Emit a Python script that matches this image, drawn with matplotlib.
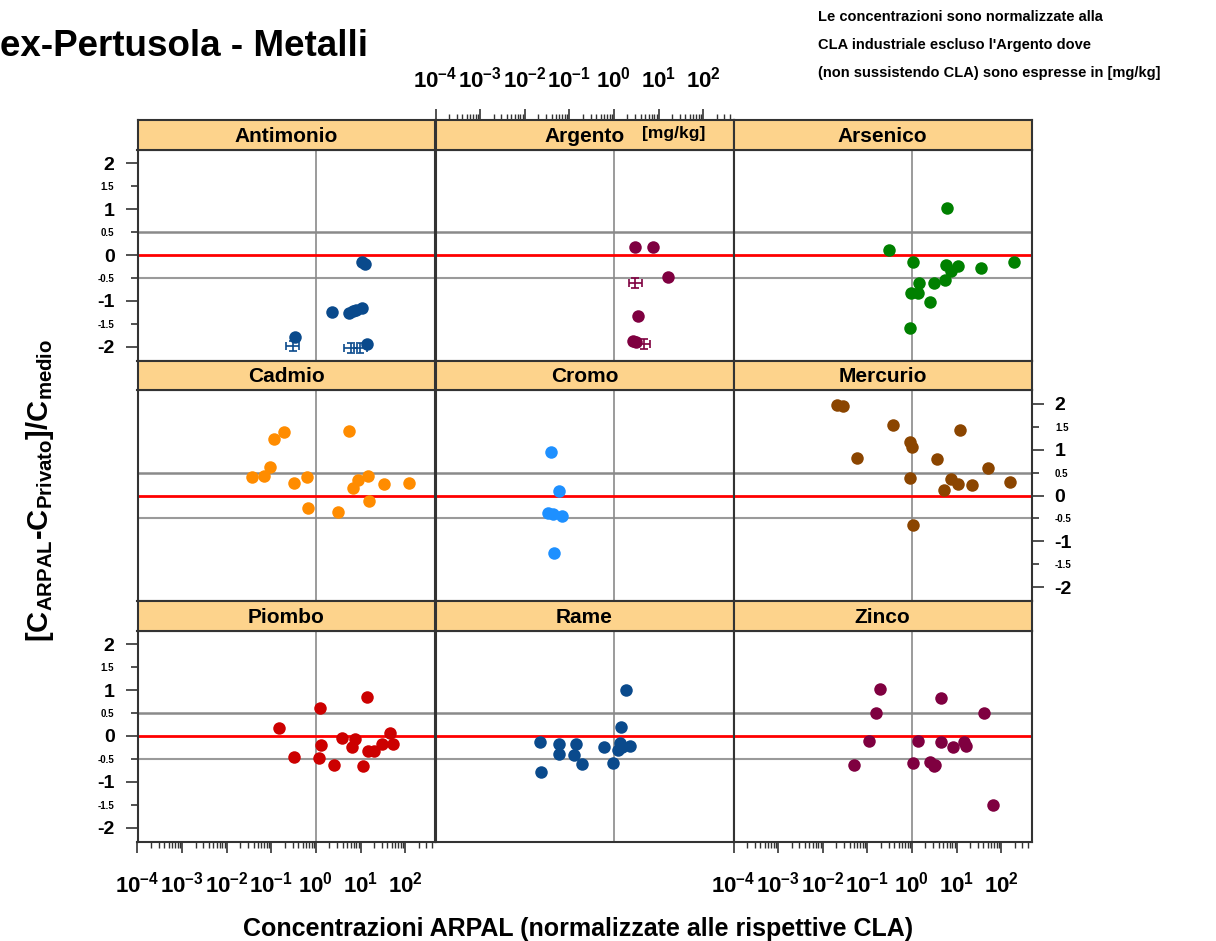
import numpy as np
import matplotlib
matplotlib.use('Agg')
import matplotlib.pyplot as plt
from matplotlib.ticker import FixedLocator, FixedFormatter, LogLocator, NullFormatter

plt.rcParams['font.family'] = 'Liberation Sans'
plt.rcParams['font.weight'] = 'bold'
plt.rcParams['mathtext.fontset'] = 'custom'
plt.rcParams['mathtext.rm'] = 'Liberation Sans:bold'
plt.rcParams['mathtext.bf'] = 'Liberation Sans:bold'
plt.rcParams['mathtext.it'] = 'Liberation Sans:bold'

# ---------------------------------------------------------- dati (x = conc. ARPAL normalizzata, y = differenza relativa)
antimonio_x = [11.0, 12.5, 2.25, 5.4, 6.7, 7.9, 10.7, 0.34, 14.0]
antimonio_y = [-0.16, -0.19, -1.24, -1.27, -1.22, -1.19, -1.15, -1.79, -1.93]
antimonio_cx = [0.30, 6.1, 9.8]          # punti con barre d'errore
antimonio_cy = [-1.99, -2.02, -2.02]

argento_x = [2.9, 7.5, 16.5, 3.4, 2.7, 3.2]
argento_y = [0.18, 0.17, -0.47, -1.34, -1.87, -1.89]
argento_cx = [3.0, 4.6]
argento_cy = [-0.62, -1.94]

arsenico_x = [6.0, 0.31, 1.07, 5.7, 7.6, 11.0, 35.0, 190.0, 5.4, 3.2, 1.46, 0.93, 1.36, 2.5, 0.90]
arsenico_y = [1.03, 0.10, -0.15, -0.22, -0.35, -0.24, -0.28, -0.16, -0.55, -0.62, -0.60, -0.82, -0.83, -1.03, -1.59]

cadmio_x = [0.19, 0.115, 5.5, 0.094, 0.0376, 0.069, 0.33, 0.64, 0.65, 3.06, 6.6, 8.6, 14.5, 15.4, 34.0, 123.0]
cadmio_y = [1.38, 1.24, 1.40, 0.63, 0.40, 0.42, 0.27, 0.40, -0.28, -0.36, 0.17, 0.33, 0.42, -0.13, 0.25, 0.28]

cromo_x = [0.038, 0.058, 0.033, 0.042, 0.070, 0.045]
cromo_y = [0.94, 0.10, -0.39, -0.40, -0.44, -1.25]

mercurio_x = [0.021, 0.029, 0.38, 0.91, 1.02, 0.06, 3.7, 11.8, 51.0, 0.91, 7.7, 11.0, 5.2, 22.5, 155.0, 1.07]
mercurio_y = [1.98, 1.96, 1.53, 1.16, 1.05, 0.81, 0.79, 1.42, 0.60, 0.38, 0.36, 0.25, 0.12, 0.22, 0.29, -0.64]

piombo_x = [0.15, 0.33, 1.23, 1.15, 1.3, 2.6, 3.9, 6.4, 7.7, 11.4, 13.6, 14.7, 20.0, 30.7, 46.0, 53.0]
piombo_y = [0.18, -0.46, 0.62, -0.49, -0.20, -0.63, -0.05, -0.25, -0.07, -0.65, 0.84, -0.33, -0.33, -0.17, 0.06, -0.18]

rame_x = [1.9, 1.45, 0.022, 0.023, 0.058, 0.060, 0.14, 0.13, 0.19, 0.59, 0.95, 1.23, 1.38, 1.52, 2.3]
rame_y = [1.0, 0.20, -0.12, -0.79, -0.18, -0.40, -0.18, -0.42, -0.61, -0.25, -0.59, -0.31, -0.16, -0.23, -0.21]

zinco_x = [0.19, 0.16, 0.11, 0.049, 1.05, 1.38, 2.6, 3.05, 3.3, 4.5, 4.5, 8.4, 14.8, 16.0, 42.0, 65.0]
zinco_y = [1.02, 0.51, -0.10, -0.63, -0.58, -0.10, -0.56, -0.65, -0.63, 0.82, -0.12, -0.25, -0.12, -0.22, 0.51, -1.51]

metalli = ['Antimonio', 'Argento', 'Arsenico', 'Cadmio', 'Cromo', 'Mercurio', 'Piombo', 'Rame', 'Zinco']
colori = ['#0A4A8C', '#7F0040', '#008000', '#FF8C00', '#1E90FF', '#8B4500', '#CC0000', '#0A4A8C', '#7F0040']
xs = [antimonio_x, argento_x, arsenico_x, cadmio_x, cromo_x, mercurio_x, piombo_x, rame_x, zinco_x]
ys = [antimonio_y, argento_y, arsenico_y, cadmio_y, cromo_y, mercurio_y, piombo_y, rame_y, zinco_y]
croci = {0: (antimonio_cx, antimonio_cy), 1: (argento_cx, argento_cy)}

x_major = [1e-4, 1e-3, 1e-2, 1e-1, 1e0, 1e1, 1e2]
x_labels = [r'$\mathbf{10^{–4}}$', r'$\mathbf{10^{–3}}$', r'$\mathbf{10^{–2}}$', r'$\mathbf{10^{–1}}$',
            r'$\mathbf{10^{0}}$', r'$\mathbf{10^{1}}$', r'$\mathbf{10^{2}}$']
y_major = [-2, -1, 0, 1, 2]
y_major_lab = ['-2', '-1', '0', '1', '2']
y_minor = [-1.5, -0.5, 0.5, 1.5]
y_minor_lab = ['-1.5', '-0.5', '0.5', '1.5']

# ---------------------------------------------------------- layout in pixel
W, H = 1216, 941
fig = plt.figure(figsize=(W / 100, H / 100), dpi=100)
col_left = [137.5, 435.5, 733.5]
col_w = 298
row_top = [120, 360.5, 601]
strip_h = 29.5
panel_h = 211
XLIM = (1e-4, 10 ** 2.68)
YLIM = (-2.3, 2.3)
strip_col = '#FDD38C'
bordo = '#333333'


def box(x, y, w, h):
    return [x / W, 1 - (y + h) / H, w / W, h / H]


def x_assi(ax, dove):
    ax.set_xscale('log')
    ax.set_xlim(*XLIM)
    ax.xaxis.set_major_locator(FixedLocator(x_major))
    ax.xaxis.set_major_formatter(FixedFormatter(x_labels))
    ax.xaxis.set_minor_locator(LogLocator(base=10, subs=np.arange(2, 10), numticks=20))
    ax.xaxis.set_minor_formatter(NullFormatter())
    ax.xaxis.set_ticks_position(dove)
    pad = 14 if dove == 'bottom' else 12
    ax.tick_params(axis='x', which='major', length=8, width=1.2, labelsize=16, pad=pad, color=bordo)
    ax.tick_params(axis='x', which='minor', length=4, width=1.0, color=bordo)


def y_assi(ax, dove):
    ax.set_ylim(*YLIM)
    ax.yaxis.set_major_locator(FixedLocator(y_major))
    ax.yaxis.set_major_formatter(FixedFormatter(y_major_lab))
    ax.yaxis.set_minor_locator(FixedLocator(y_minor))
    ax.yaxis.set_minor_formatter(FixedFormatter(y_minor_lab))
    ax.yaxis.set_ticks_position(dove)
    ax.tick_params(axis='y', which='major', length=8.5, width=1.2, labelsize=14, pad=8, color=bordo)
    ax.tick_params(axis='y', which='minor', length=5, width=1.2, labelsize=7, pad=12, color=bordo)
    if dove == 'right':
        ax.tick_params(axis='y', which='both', labelright=True, labelleft=False)


for i, nome in enumerate(metalli):
    r, c = divmod(i, 3)
    ax = fig.add_axes(box(col_left[c], row_top[r] + strip_h, col_w, panel_h))
    ax.set_xscale('log')
    ax.set_xlim(*XLIM)
    ax.set_ylim(*YLIM)
    ax.axhline(0.5, color='#8a8a8a', lw=1.8, zorder=1)
    ax.axhline(-0.5, color='#9a9a9a', lw=1.5, zorder=1)
    ax.axvline(1, color='#8a8a8a', lw=1.2, zorder=1)
    ax.axhline(0, color='#FF0000', lw=2, zorder=2)
    ax.plot(xs[i], ys[i], 'o', ms=9, color=colori[i], mew=0, zorder=3)
    if i in croci:
        cx, cy = np.array(croci[i][0]), np.array(croci[i][1])
        ax.errorbar(cx, cy, xerr=[cx - cx / 1.4, cx * 1.4 - cx], yerr=0.11, fmt='none',
                    ecolor=colori[i], elinewidth=1.2, capsize=3, capthick=1.2, zorder=3)
    for s in ax.spines.values():
        s.set_color(bordo)
        s.set_linewidth(1.5)
    ax.tick_params(which='both', bottom=False, top=False, left=False, right=False,
                   labelbottom=False, labeltop=False, labelleft=False, labelright=False)
    if r == 2 and c in (0, 2):
        x_assi(ax, 'bottom')
        ax.tick_params(axis='x', which='both', bottom=True, labelbottom=True)
    if c == 0 and r in (0, 2):
        y_assi(ax, 'left')
        ax.tick_params(axis='y', which='both', left=True, labelleft=True)
    if c == 2 and r == 1:
        y_assi(ax, 'right')
        ax.tick_params(axis='y', which='both', right=True, labelright=True)

    # striscia col nome del metallo
    st = fig.add_axes(box(col_left[c], row_top[r], col_w, strip_h))
    st.set_facecolor(strip_col)
    for s in st.spines.values():
        s.set_color(bordo)
        s.set_linewidth(1.5)
    st.set_yticks([])
    if r == 0 and c == 1:
        x_assi(st, 'top')
        st.tick_params(axis='x', which='both', top=True, labeltop=True, bottom=False, labelbottom=False)
        st.text(0.5, 0.45, nome, transform=st.transAxes, ha='center', va='center', fontsize=15, fontweight='bold')
        st.text(0.80, 0.55, '[mg/kg]', transform=st.transAxes, ha='center', va='center', fontsize=12.5, fontweight='bold')
    else:
        st.set_xticks([])
        st.text(0.5, 0.45, nome, transform=st.transAxes, ha='center', va='center', fontsize=15, fontweight='bold')

# ---------------------------------------------------------- testi
fig.text(0 / W, 1 - 46 / H, 'ex-Pertusola - Metalli', fontsize=26.5, fontweight='bold', ha='left', va='center')
note = ['Le concentrazioni sono normalizzate alla',
        "CLA industriale escluso l'Argento dove",
        '(non sussistendo CLA) sono espresse in [mg/kg]']
for k, riga in enumerate(note):
    fig.text(818 / W, 1 - (17 + 28 * k) / H, riga, fontsize=10.5, fontweight='bold', ha='left', va='center')
fig.text(40 / W, 1 - 490 / H, r'[C$_{\mathbf{ARPAL}}$-C$_{\mathbf{Privato}}$]/C$_{\mathbf{medio}}$',
         rotation=90, fontsize=21, fontweight='bold', ha='center', va='center')
fig.text(578 / W, 1 - 929 / H, 'Concentrazioni ARPAL (normalizzate alle rispettive CLA)',
         fontsize=18, fontweight='bold', ha='center', va='center')

fig.savefig('out.png', dpi=100)
